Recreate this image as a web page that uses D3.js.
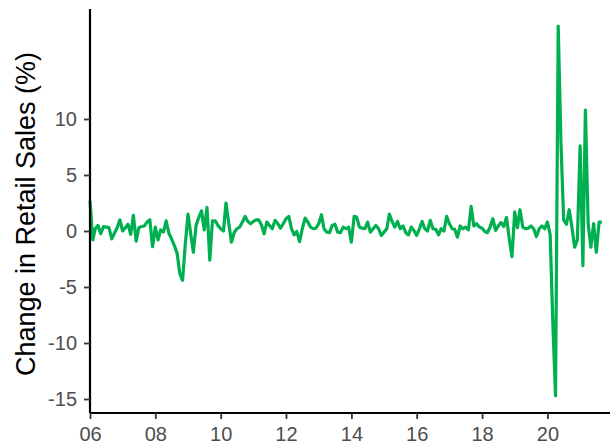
<!DOCTYPE html>
<html>
<head>
<meta charset="utf-8">
<script src="https://cdn.jsdelivr.net/npm/d3@7"></script>
<style>
  html, body { margin: 0; padding: 0; background: #fff; }
  svg { display: block; }
  text { font-family: "Liberation Sans", Arial, sans-serif; }
</style>
</head>
<body>
<svg id="chart" width="613" height="448"></svg>
<script>
// Monthly change in retail sales (%), starting January 2006
const startMonth = "2006-01-01";
const values2006 = [2.7, -0.8, 0.2, 0.5, -0.25, 0.4, 0.35, 0.3, -0.7, -0.2, 0.3, 1.0];
const values2007 = [0.0, 0.3, 0.6, -0.3, 1.4, -0.9, 0.3, 0.4, 0.45, 0.8, 1.0, -1.4];
const values2008 = [0.35, -0.8, 0.1, -0.1, 0.9, -0.2, -0.7, -1.3, -2.0, -3.8, -4.4, -1.2];
const values2009 = [1.5, -0.3, -1.9, 0.5, 1.2, 1.8, 0.1, 2.1, -2.6, 0.9, 0.9, 0.5];
const values2010 = [0.2, 0.0, 2.5, 0.7, -1.0, -0.15, 0.2, 0.35, 0.8, 1.3, 0.85, 0.65];
const values2011 = [0.85, 1.0, 1.0, 0.55, -0.25, 0.8, 0.5, 0.2, 0.95, 0.65, 0.25, 0.65];
const values2012 = [1.1, 1.3, 0.25, -0.35, -0.05, -0.95, 0.2, 1.15, 0.8, 0.35, 0.2, 0.25];
const values2013 = [0.65, 1.45, 0.2, -0.1, -0.15, 0.5, 0.6, -0.1, -0.15, 0.35, 0.2, 0.35];
const values2014 = [-1.0, 1.3, 1.25, 0.35, 0.25, 0.2, 0.8, -0.1, 0.2, 0.5, 0.2, -0.4];
const values2015 = [-0.1, 0.2, 1.5, 0.85, 0.35, 0.85, 0.2, 0.45, -0.15, -0.35, 0.35, 0.05];
const values2016 = [-0.4, 0.2, 0.85, 0.2, 0.0, 0.95, 0.2, 0.15, -0.35, 0.2, 0.0, 1.3];
const values2017 = [0.65, 0.2, 0.15, -0.55, 0.45, 0.2, 0.35, 0.1, 2.2, 0.45, 0.65, 0.35];
const values2018 = [0.25, -0.05, -0.15, 0.35, 1.1, 0.05, 0.45, 0.75, 0.4, 1.2, -0.7, -2.3];
const values2019 = [1.7, 0.3, 1.9, 0.35, 0.2, 0.25, 0.45, 0.2, -0.5, 0.2, 0.45, 0.2];
const values2020 = [0.8, -0.3, -8.0, -14.7, 18.3, 7.8, 1.0, 0.6, 1.9, 0.35, -1.45, -0.8];
const values2021 = [7.6, -3.1, 10.8, 0.6, -1.45, 0.65, -1.9, 0.8, 0.8];

const yTicks = [-15, -10, -5, 0, 5, 10];
const xTickYears = [2006, 2008, 2010, 2012, 2014, 2016, 2018, 2020];
const yTitle = "Change in Retail Sales (%)";

(function () {
  const allValues = [].concat(values2006, values2007, values2008, values2009, values2010,
    values2011, values2012, values2013, values2014, values2015, values2016, values2017,
    values2018, values2019, values2020, values2021);
  const start = new Date(startMonth + "T00:00:00");
  const data = allValues.map((v, i) => ({ date: d3.timeMonth.offset(start, i), value: v }));

  const svg = d3.select("#chart");
  const mLeft = 90, mRight = 610, mTop = 9, mBottom = 413;

  const x = d3.scaleTime()
    .domain([new Date(2006, 0, 1), new Date(2021, 11, 1)])
    .range([mLeft, mRight]);
  const y = d3.scaleLinear()
    .domain([-16.25, 19.82])
    .range([mBottom, mTop]);

  const line = d3.line().x(d => x(d.date)).y(d => y(d.value));
  svg.append("path")
    .datum(data)
    .attr("fill", "none")
    .attr("stroke", "#00b050")
    .attr("stroke-width", 3.2)
    .attr("stroke-linejoin", "round")
    .attr("d", line);

  const xAxis = d3.axisBottom(x)
    .tickValues(xTickYears.map(yr => new Date(yr, 0, 1)))
    .tickFormat(d3.timeFormat("%y"))
    .tickSize(6)
    .tickPadding(8)
    .tickSizeOuter(0);
  const gx = svg.append("g").attr("transform", `translate(0,${mBottom})`).call(xAxis);
  gx.select(".domain").attr("stroke", "#000").attr("stroke-width", 2.2).attr("d", `M${mLeft},0H${mRight}`);
  gx.selectAll(".tick line").attr("stroke", "#333").attr("stroke-width", 1.8);
  gx.selectAll(".tick text").attr("fill", "#4d4d4d").attr("font-size", 20)
    .attr("font-family", "'Liberation Sans', Arial, sans-serif");

  const yAxis = d3.axisLeft(y)
    .tickValues(yTicks)
    .tickFormat(d => String(d))
    .tickSize(6)
    .tickPadding(7)
    .tickSizeOuter(0);
  const gy = svg.append("g").attr("transform", `translate(${mLeft},0)`).call(yAxis);
  gy.select(".domain").attr("stroke", "#000").attr("stroke-width", 2.2).attr("d", `M0,${mTop}V${mBottom}`);
  gy.selectAll(".tick line").attr("stroke", "#333").attr("stroke-width", 1.8);
  gy.selectAll(".tick text").attr("fill", "#4d4d4d").attr("font-size", 20)
    .attr("font-family", "'Liberation Sans', Arial, sans-serif");

  svg.append("text")
    .attr("transform", `translate(35,214) rotate(-90)`)
    .attr("text-anchor", "middle")
    .attr("font-size", 27)
    .attr("fill", "#000")
    .text(yTitle);
})();
</script>
</body>
</html>
